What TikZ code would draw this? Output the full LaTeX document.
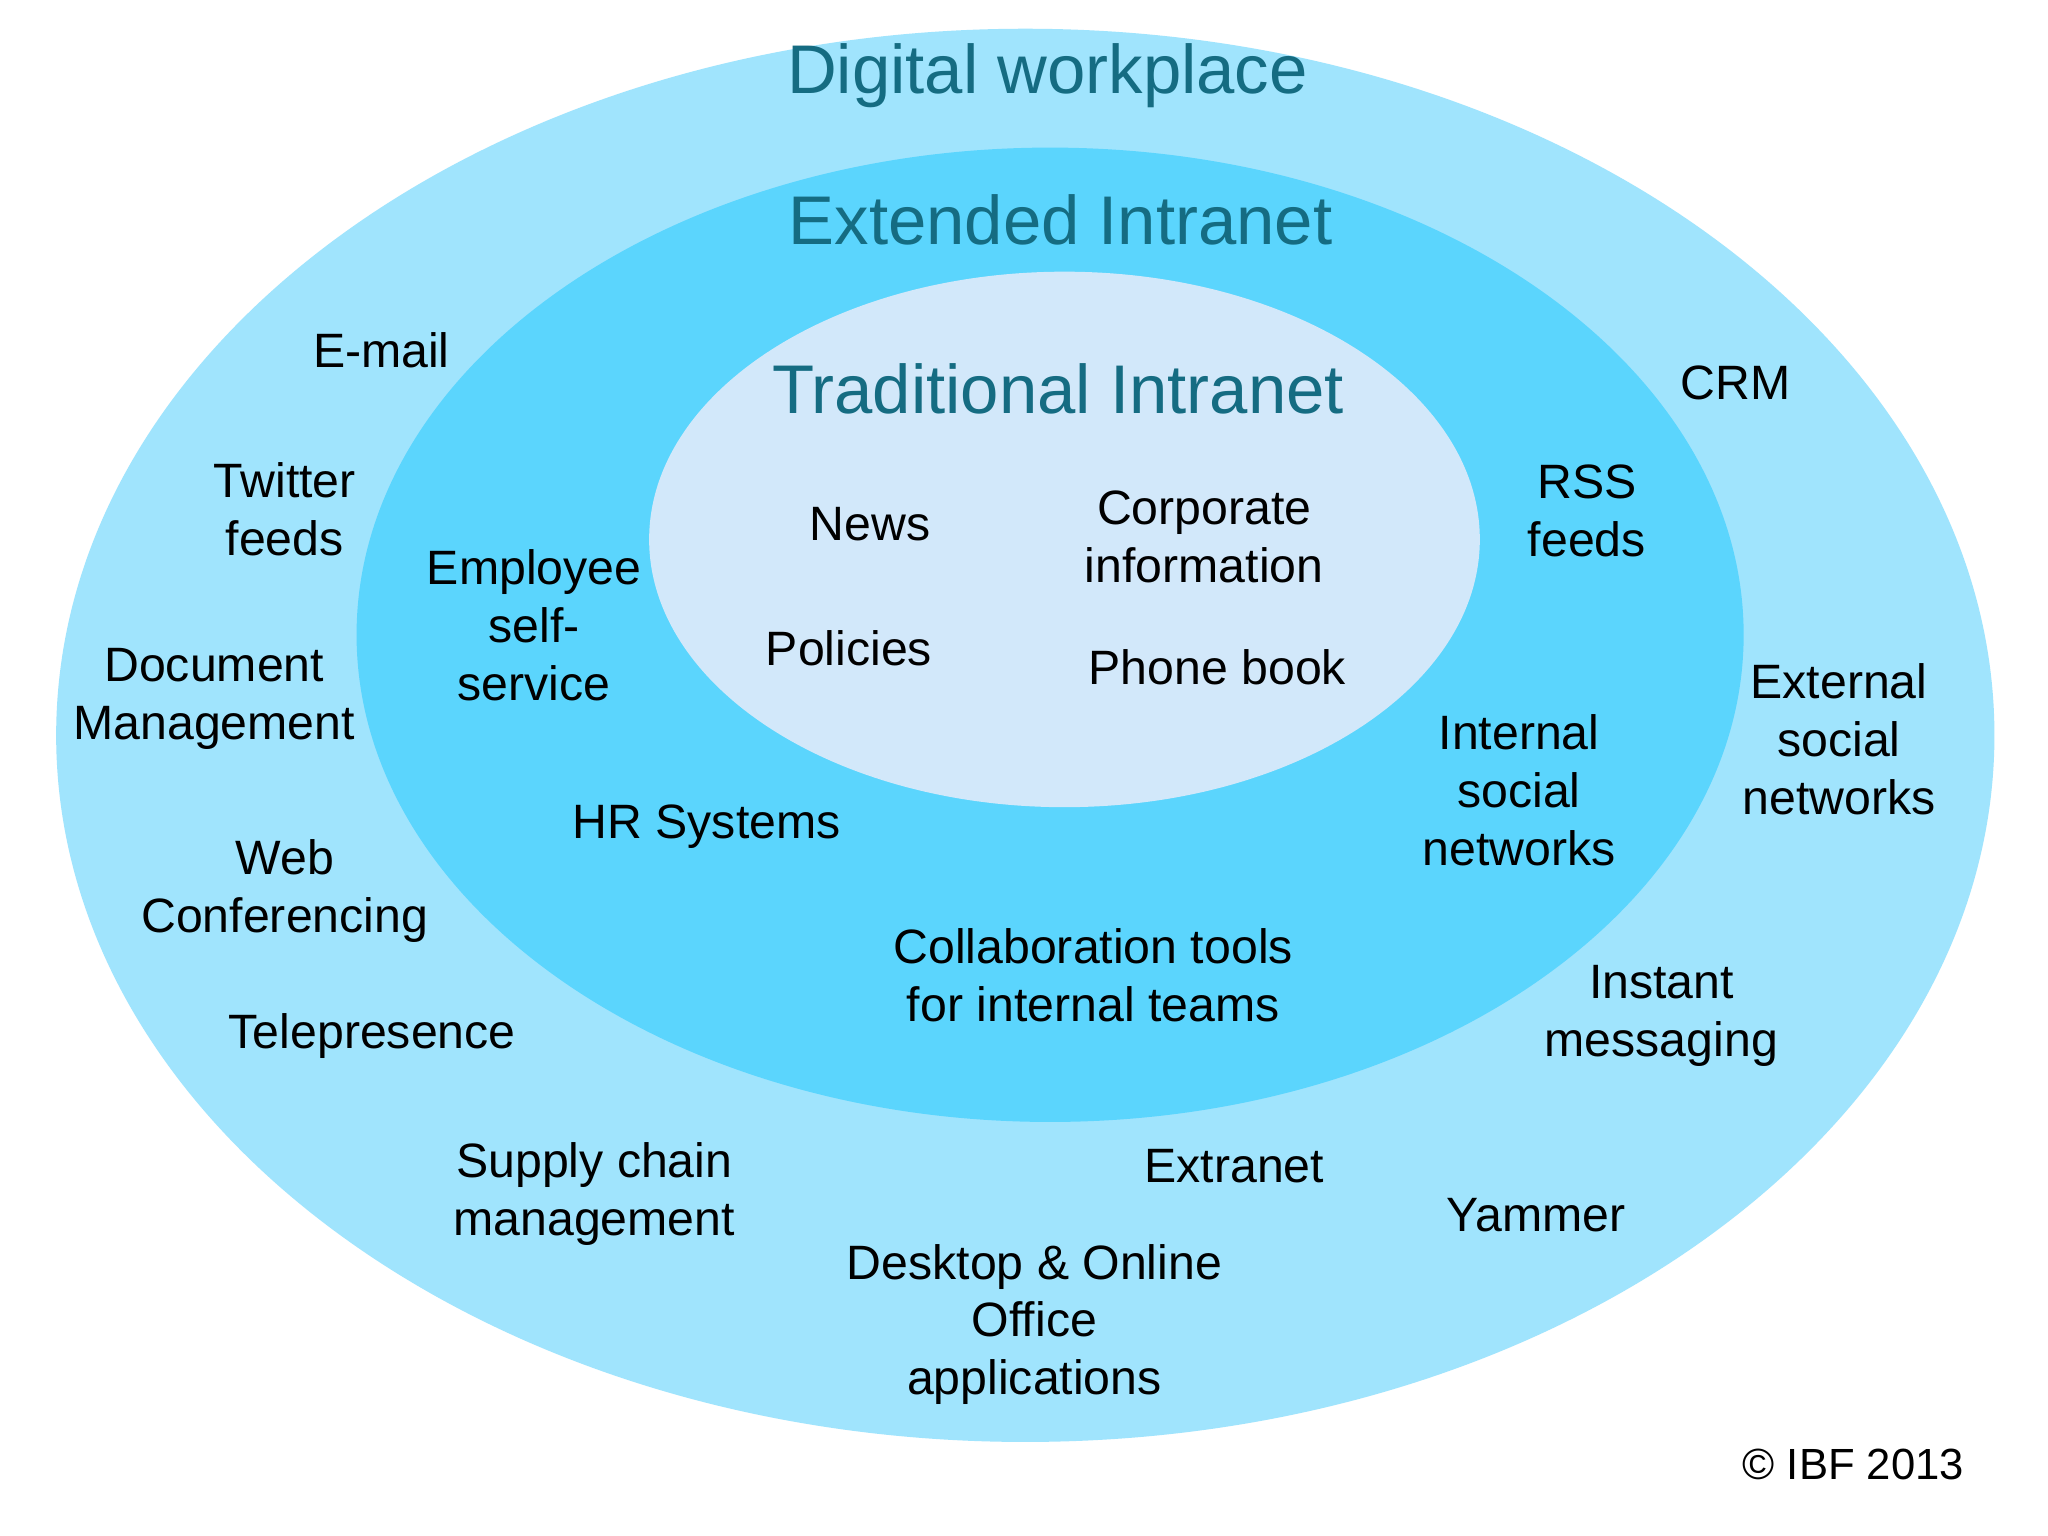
\documentclass[tikz,border=0pt]{standalone}
\usepackage{fontspec}
\setmainfont{Liberation Sans}
\definecolor{outerc}{HTML}{A0E4FD}
\definecolor{midc}{HTML}{5BD5FD}
\definecolor{innerc}{HTML}{D2E8FA}
\definecolor{titlec}{HTML}{156C82}
\begin{document}
\begin{tikzpicture}[x=0.01cm,y=-0.01cm,
  lbl/.style={align=center,font=\fontsize{10.5}{12.6}\selectfont,inner sep=0pt},
  ttl/.style={font=\fontsize{15}{18}\selectfont,text=titlec,inner sep=0pt}]
\useasboundingbox[fill=white] (0,0) rectangle (1568,1176);
\fill[outerc] (785,563) ellipse [x radius=742, y radius=541];
\fill[midc] (804,486) ellipse [x radius=531, y radius=373];
\fill[innerc] (815,413) ellipse [x radius=318, y radius=205];
\node[ttl] (t1) at (802,58) {Digital workplace};
\node[ttl] (t2) at (812,168) {Extended Intranet};
\node[ttl] (t3) at (810,298) {Traditional Intranet};
\node[lbl] (n1) at (666,401) {News};
\node[lbl] (n2) at (922,411) {Corporate\\information};
\node[lbl] (n3) at (650,496) {Policies};
\node[lbl] (n4) at (932,511) {Phone book};
\node[lbl] (m1) at (409,479) {Employee\\self-\\service};
\node[lbl] (m2) at (1215,391) {RSS\\feeds};
\node[lbl] (m3) at (1163,605) {Internal\\social\\networks};
\node[lbl] (m4) at (541,633) {HR Systems};
\node[lbl] (m5) at (837,747) {Collaboration tools\\for internal teams};
\node[lbl] (o1) at (292,268) {E-mail};
\node[lbl] (o2) at (218,390) {Twitter\\feeds};
\node[lbl] (o3) at (164,535) {Document\\Management};
\node[lbl] (o4) at (218,682) {Web\\Conferencing};
\node[lbl] (o5) at (285,793) {Telepresence};
\node[lbl] (o6) at (455,914) {Supply chain\\management};
\node[lbl] (o7) at (792,1014) {Desktop \& Online\\Office\\applications};
\node[lbl] (o8) at (945,893) {Extranet};
\node[lbl] (o9) at (1176,930) {Yammer};
\node[lbl] (o10) at (1272,778) {Instant\\messaging};
\node[lbl] (o11) at (1408,566) {External\\social\\networks};
\node[lbl] (o12) at (1329,293) {CRM};
\node[lbl,font=\fontsize{9.5}{11}\selectfont] (c) at (1419,1121) {© IBF 2013};
\end{tikzpicture}
\end{document}
